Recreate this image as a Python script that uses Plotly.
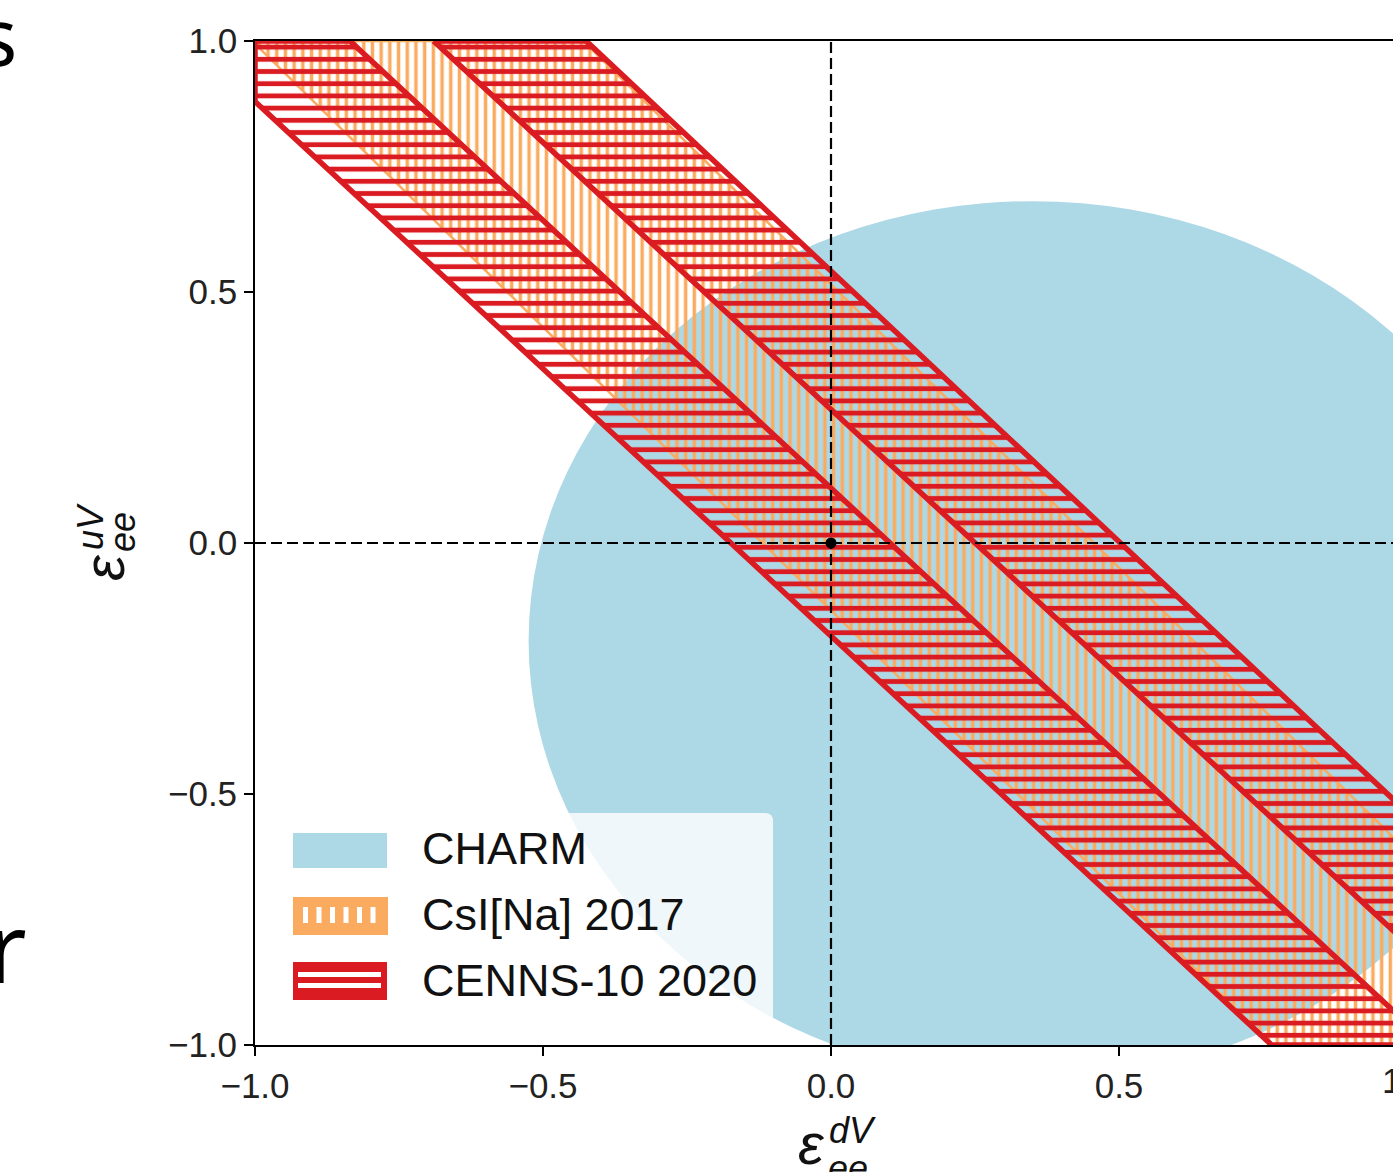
import plotly.graph_objects as go

# ---------------- data ----------------
x_range = [-1.0, 0.9757]
y_range = [-1.0, 1.0]
x_ticks = [-1.0, -0.5, 0.0, 0.5]
y_ticks = [-1.0, -0.5, 0.0, 0.5, 1.0]
hidden_x_tick = 1.0          # cropped tick label at the right edge

# band edges: x position of each edge at y = +1 and y = -1
edge_y = [1.0, -1.0]
cenns_band1_lo = [-1.113, 0.765]
cenns_band1_hi = [-0.835, 1.040]
cenns_band2_lo = [-0.690, 1.190]
cenns_band2_hi = [-0.425, 1.430]
csi_band_lo = [-1.005, 0.767]
csi_band_hi = [-0.430, 1.343]

charm_center = [0.350, -0.195]
charm_radius = [0.875, 0.876]

origin_x = [0.0]
origin_y = [0.0]

legend_labels = ["CHARM", "CsI[Na] 2017", "CENNS-10 2020"]

# ---------------- styles ----------------
BLUE = "#add8e6"
ORANGE = "#fbab60"
RED = "#da1c22"
FONT = "Liberation Sans, Arial, sans-serif"

# plot area in pixels
L, R, T, B = 255, 1393, 41, 1045
W, H = 1393, 1172


def px(xp):
    return (xp - L) / (R - L)


def py(yp):
    return (B - yp) / (B - T)


def band_polygon(lo, hi, xmin):
    pts = [(lo[0], edge_y[0]), (hi[0], edge_y[0]), (hi[1], edge_y[1]), (lo[1], edge_y[1])]
    out = []
    n = len(pts)
    for i in range(n):
        p, q = pts[i], pts[(i + 1) % n]
        pin, qin = p[0] >= xmin, q[0] >= xmin
        if pin:
            out.append(p)
        if pin != qin:
            t = (xmin - p[0]) / (q[0] - p[0])
            out.append((xmin, p[1] + t * (q[1] - p[1])))
    out.append(out[0])
    return [p[0] for p in out], [p[1] for p in out]


fig = go.Figure()

# CsI[Na] 2017 (orange vertical hatch)
xs, ys = band_polygon(csi_band_lo, csi_band_hi, x_range[0])
fig.add_trace(go.Scatter(
    x=xs, y=ys, mode="lines", fill="toself",
    fillpattern=dict(shape="|", fgcolor=ORANGE, bgcolor="rgba(0,0,0,0)",
                     size=8.7, solidity=0.4, fillmode="replace"),
    line=dict(color=ORANGE, width=2.5), hoverinfo="skip", name=legend_labels[1]))

# CENNS-10 2020 (red horizontal hatch)
for lo, hi in [(cenns_band1_lo, cenns_band1_hi), (cenns_band2_lo, cenns_band2_hi)]:
    xs, ys = band_polygon(lo, hi, x_range[0])
    fig.add_trace(go.Scatter(
        x=xs, y=ys, mode="lines", fill="toself",
        fillpattern=dict(shape="-", fgcolor=RED, bgcolor="rgba(0,0,0,0)",
                         size=12.2, solidity=0.4, fillmode="replace"),
        line=dict(color=RED, width=5.5), hoverinfo="skip", name=legend_labels[2]))

# origin dot
fig.add_trace(go.Scatter(x=origin_x, y=origin_y, mode="markers",
                         marker=dict(color="black", size=11), hoverinfo="skip"))

shapes = []
# CHARM region
shapes.append(dict(type="circle", xref="x", yref="y", layer="below",
                   x0=charm_center[0] - charm_radius[0], x1=charm_center[0] + charm_radius[0],
                   y0=charm_center[1] - charm_radius[1], y1=charm_center[1] + charm_radius[1],
                   fillcolor=BLUE, line=dict(width=0)))
# dashed zero lines
shapes.append(dict(type="line", xref="x", yref="paper", x0=0, x1=0, y0=0, y1=1, layer="above",
                   line=dict(color="black", width=2.2, dash="11px,5px")))
shapes.append(dict(type="line", xref="paper", yref="y", x0=0, x1=1, y0=0, y1=0, layer="above",
                   line=dict(color="black", width=2.2, dash="11px,5px")))

# legend box (slightly rounded)
lx0, lx1, ly0, ly1, rr = px(275), px(773), py(1030), py(813), 8
rx, ry = rr / (R - L), rr / (B - T)
legend_path = (f"M{lx0 + rx},{ly0} L{lx1 - rx},{ly0} Q{lx1},{ly0} {lx1},{ly0 + ry} "
               f"L{lx1},{ly1 - ry} Q{lx1},{ly1} {lx1 - rx},{ly1} L{lx0 + rx},{ly1} "
               f"Q{lx0},{ly1} {lx0},{ly1 - ry} L{lx0},{ly0 + ry} Q{lx0},{ly0} {lx0 + rx},{ly0} Z")
shapes.append(dict(type="path", xref="paper", yref="paper", layer="above", path=legend_path,
                   fillcolor="rgba(255,255,255,0.8)", line=dict(width=0)))
# legend swatches
shapes.append(dict(type="rect", xref="paper", yref="paper", layer="above",
                   x0=px(293), x1=px(387), y0=py(868), y1=py(833),
                   fillcolor=BLUE, line=dict(width=0)))
shapes.append(dict(type="rect", xref="paper", yref="paper", layer="above",
                   x0=px(293), x1=px(388), y0=py(935), y1=py(897),
                   fillcolor=ORANGE, line=dict(width=0)))
for bx in [303, 316.5, 330, 343.5, 357, 370.5]:
    shapes.append(dict(type="rect", xref="paper", yref="paper", layer="above",
                       x0=px(bx), x1=px(bx + 5), y0=py(923), y1=py(907),
                       fillcolor="white", line=dict(width=0)))
shapes.append(dict(type="rect", xref="paper", yref="paper", layer="above",
                   x0=px(293), x1=px(387), y0=py(1000), y1=py(962),
                   fillcolor=RED, line=dict(width=0)))
for by in [972, 983]:
    shapes.append(dict(type="rect", xref="paper", yref="paper", layer="above",
                       x0=px(298), x1=px(381), y0=py(by + 5), y1=py(by),
                       fillcolor="white", line=dict(width=0)))

annotations = []
for lab, yc in zip(legend_labels, [848, 914, 980]):
    annotations.append(dict(text=lab, xref="paper", yref="paper", x=px(420), y=py(yc),
                            xanchor="left", yanchor="middle", showarrow=False,
                            font=dict(family=FONT, size=45, color="#111")))

# cropped "1.0" tick label at the right edge
annotations.append(dict(text=f"{hidden_x_tick:.1f}", xref="paper", yref="paper",
                        x=(hidden_x_tick - x_range[0]) / (x_range[1] - x_range[0]), y=py(1080),
                        xanchor="center", yanchor="middle", showarrow=False,
                        font=dict(family=FONT, size=35, color="#222")))

# x-axis title  ε^{dV}_{ee}
annotations += [
    dict(text="<i>ε</i>", xref="paper", yref="paper", x=px(811), y=py(1143), xanchor="center",
         yanchor="middle", showarrow=False, font=dict(family=FONT, size=58, color="#111")),
    dict(text="<i>dV</i>", xref="paper", yref="paper", x=px(852), y=py(1130), xanchor="center",
         yanchor="middle", showarrow=False, font=dict(family=FONT, size=36, color="#111")),
    dict(text="<i>ee</i>", xref="paper", yref="paper", x=px(848), y=py(1168), xanchor="center",
         yanchor="middle", showarrow=False, font=dict(family=FONT, size=36, color="#111")),
]
# y-axis title  ε^{uV}_{ee} (rotated)
annotations += [
    dict(text="<i>ε</i>", xref="paper", yref="paper", x=px(103), y=py(568), xanchor="center",
         yanchor="middle", showarrow=False, textangle=-90,
         font=dict(family=FONT, size=58, color="#111")),
    dict(text="<i>uV</i>", xref="paper", yref="paper", x=px(90), y=py(527), xanchor="center",
         yanchor="middle", showarrow=False, textangle=-90,
         font=dict(family=FONT, size=36, color="#111")),
    dict(text="<i>ee</i>", xref="paper", yref="paper", x=px(122), y=py(532), xanchor="center",
         yanchor="middle", showarrow=False, textangle=-90,
         font=dict(family=FONT, size=36, color="#111")),
]
# fragments of surrounding slide text
annotations += [
    dict(text="s", xref="paper", yref="paper", x=px(19), y=py(34), xanchor="right",
         yanchor="middle", showarrow=False, font=dict(family="Noto Sans", size=80, color="black")),
    dict(text="r", xref="paper", yref="paper", x=px(29), y=py(945), xanchor="right",
         yanchor="middle", showarrow=False, font=dict(family="Noto Sans", size=96, color="black")),
]

axis_common = dict(showgrid=False, zeroline=False, ticks="outside", ticklen=9, tickwidth=1.6,
                   tickcolor="black", showline=True, linecolor="black", linewidth=1.8,
                   tickformat=".1f", tickfont=dict(family=FONT, size=35, color="#222"))

fig.update_layout(
    width=W, height=H,
    margin=dict(l=L, r=W - R, t=T, b=H - B, pad=0),
    plot_bgcolor="white", paper_bgcolor="white",
    showlegend=False,
    xaxis=dict(range=x_range, tickvals=x_ticks, mirror=True, **axis_common),
    yaxis=dict(range=y_range, tickvals=y_ticks, mirror=False, **axis_common),
    shapes=shapes, annotations=annotations,
)

fig.write_html("out.html", config={"displayModeBar": False})
